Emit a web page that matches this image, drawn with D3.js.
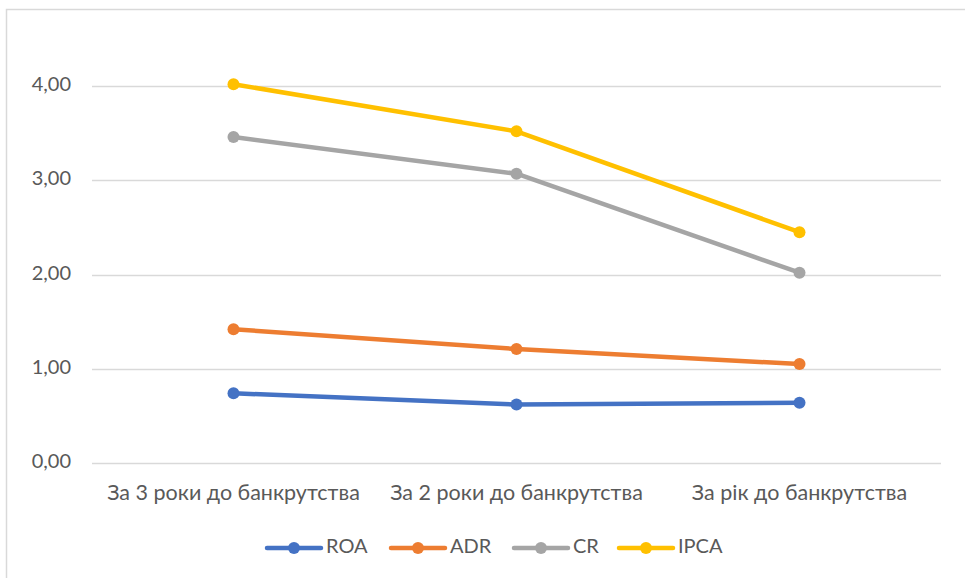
<!DOCTYPE html>
<html>
<head>
<meta charset="utf-8">
<script src="https://cdn.jsdelivr.net/npm/d3@7"></script>
<style>
  body { margin: 0; background: #fff; }
  text { font-family: Lato, "Open Sans", sans-serif; }
</style>
</head>
<body>
<div id="chart"></div>
<script>
// --- data ---
const categories = ['За 3 роки до банкрутства', 'За 2 роки до банкрутства', 'За рік до банкрутства'];
const seriesNames = ['ROA', 'ADR', 'CR', 'IPCA'];
const seriesColors = ['#4472c4', '#ed7d31', '#a5a5a5', '#ffc000'];
const roa = [0.74, 0.62, 0.64];
const adr = [1.42, 1.21, 1.05];
const cr = [3.46, 3.07, 2.02];
const ipca = [4.02, 3.52, 2.45];
const yTicks = [0, 1, 2, 3, 4];

const W = 965, H = 578;
const margin = { top: 39, right: 24, bottom: 115, left: 92 };
const iw = W - margin.left - margin.right;
const ih = H - margin.top - margin.bottom;

const svg = d3.select('#chart').append('svg')
  .attr('width', W).attr('height', H);

// chart border
svg.append('rect')
  .attr('x', 6.5).attr('y', 9.5)
  .attr('width', W + 20).attr('height', H + 20)
  .attr('fill', 'none').attr('stroke', '#d9d9d9').attr('stroke-width', 1.5);

const g = svg.append('g').attr('transform', `translate(${margin.left},${margin.top})`);

const x = d3.scaleBand().domain(categories).range([0, iw]);
const y = d3.scaleLinear().domain([0, 4.5]).range([ih, 0]);

// gridlines
g.selectAll('.grid').data(yTicks).join('line')
  .attr('x1', 0).attr('x2', iw)
  .attr('y1', d => Math.round(y(d)) + 0.5).attr('y2', d => Math.round(y(d)) + 0.5)
  .attr('stroke', '#d9d9d9').attr('stroke-width', 1.3);

// y tick labels
g.selectAll('.ytick').data(yTicks).join('text')
  .attr('x', -21).attr('y', d => y(d))
  .attr('text-anchor', 'end').attr('dominant-baseline', 'middle')
  .attr('font-size', '20px').attr('fill', '#595959')
  .text(d => d3.format('.2f')(d).replace('.', ','));

// x labels
g.selectAll('.xlab').data(categories).join('text')
  .attr('x', d => x(d) + x.bandwidth() / 2).attr('y', ih + 32)
  .attr('text-anchor', 'middle').attr('dominant-baseline', 'middle')
  .attr('font-size', '21.5px').attr('fill', '#595959')
  .text(d => d);

// series
const allSeries = [roa, adr, cr, ipca];
const line = d3.line()
  .x((d, i) => x(categories[i]) + x.bandwidth() / 2)
  .y(d => y(d));

allSeries.forEach((vals, si) => {
  g.append('path').datum(vals)
    .attr('d', line).attr('fill', 'none')
    .attr('stroke', seriesColors[si]).attr('stroke-width', 4.5)
    .attr('stroke-linejoin', 'round').attr('stroke-linecap', 'round');
  g.selectAll(null).data(vals).join('circle')
    .attr('cx', (d, i) => x(categories[i]) + x.bandwidth() / 2)
    .attr('cy', d => y(d))
    .attr('r', 6)
    .attr('fill', seriesColors[si]);
});

// legend
const legendX = [266, 390, 513, 618];
const leg = svg.append('g').attr('transform', 'translate(0,548)');
seriesNames.forEach((name, i) => {
  const lg = leg.append('g').attr('transform', `translate(${legendX[i]},0)`);
  lg.append('line').attr('x1', 1).attr('x2', 55).attr('y1', 0).attr('y2', 0)
    .attr('stroke', seriesColors[i]).attr('stroke-width', 4.5).attr('stroke-linecap', 'round');
  lg.append('circle').attr('cx', 28).attr('cy', 0).attr('r', 6).attr('fill', seriesColors[i]);
  lg.append('text').attr('x', 60).attr('y', 0)
    .attr('dominant-baseline', 'middle')
    .attr('font-size', '20px').attr('fill', '#595959')
    .text(name);
});
</script>
</body>
</html>
